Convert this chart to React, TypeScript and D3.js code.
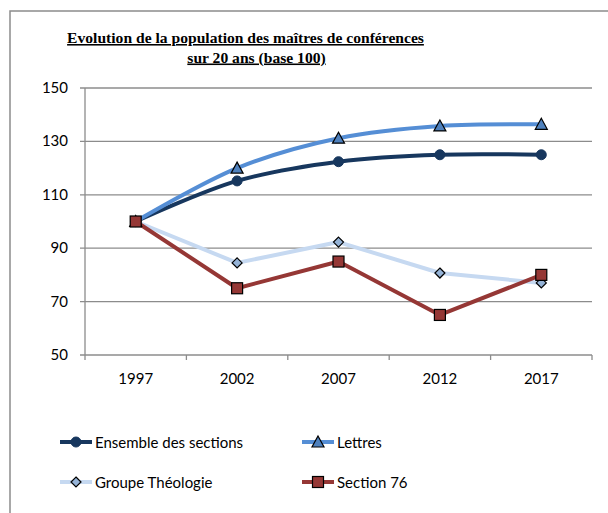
import React from "react";
import * as d3 from "d3";

const years = ["1997", "2002", "2007", "2012", "2017"];
const ensemble = [100, 115.2, 122.4, 125, 125];
const lettres = [100, 120, 131.2, 135.8, 136.4];
const theologie = [100, 84.5, 92.3, 80.7, 77];
const section76 = [100, 75, 85, 65, 80];
const yTicks = [50, 70, 90, 110, 130, 150];
const titleLines = ["Evolution de la population des maîtres de conférences", "sur 20 ans (base 100)"];

type S = { name: string; values: number[]; color: string; marker: string; mfill: string; smooth: boolean };
const series: S[] = [
  { name: "Ensemble des sections", values: ensemble, color: "#17375E", marker: "circle", mfill: "#17375E", smooth: true },
  { name: "Lettres", values: lettres, color: "#558ED5", marker: "triangle", mfill: "#4F81BD", smooth: true },
  { name: "Groupe Théologie", values: theologie, color: "#C6D9F1", marker: "diamond", mfill: "#95B3D7", smooth: false },
  { name: "Section 76", values: section76, color: "#953735", marker: "square", mfill: "#953735", smooth: false },
];

const W = 608, H = 513;
const L = 85, R = 592, T = 88, B = 355;

function Marker({ type, x, y, fill }: { type: string; x: number; y: number; fill: string }) {
  if (type === "circle") return <circle cx={x} cy={y} r={5} fill={fill} stroke={fill} />;
  if (type === "triangle")
    return <path d={`M${x},${y - 6}L${x + 6},${y + 5}L${x - 6},${y + 5}Z`} fill={fill} stroke="#000" strokeWidth={1.2} />;
  if (type === "diamond")
    return <path d={`M${x},${y - 5}L${x + 5},${y}L${x},${y + 5}L${x - 5},${y}Z`} fill={fill} stroke="#000" strokeWidth={1.2} />;
  return <rect x={x - 5.5} y={y - 5.5} width={11} height={11} fill={fill} stroke="#000" strokeWidth={1.2} />;
}

export default function App() {
  const x = d3.scaleBand<string>().domain(years).range([L, R]);
  const y = d3.scaleLinear().domain([50, 150]).range([B, T]);
  const cx = (d: string) => (x(d) as number) + x.bandwidth() / 2;
  const font = "Lato, 'Noto Sans', sans-serif";
  const titleX = [245.5, 256.5];
  return (
    <svg width={W} height={H} style={{ position: "absolute", left: 0, top: 0, background: "#fff" }}>
      <rect x={10} y={11} width={W + 10} height={H + 10} fill="#fff" stroke="#8c8c8c" strokeWidth={1.5} />
      {titleLines.map((t, i) => (
        <text key={i} x={titleX[i]} y={43 + i * 19.5} textAnchor="middle" fontFamily="'Liberation Serif', 'Times New Roman', serif"
          fontWeight="bold" fontSize={15.6} textDecoration="underline" fill="#000">{t}</text>
      ))}
      {yTicks.map((t) => (
        <g key={t}>
          <line x1={L - 5} x2={R} y1={y(t)} y2={y(t)} stroke="#8c8c8c" strokeWidth={1.3} />
          <text x={68} y={y(t) + 5} textAnchor="end" fontFamily={font} fontSize={15} fill="#000">{t}</text>
        </g>
      ))}
      <line x1={L} x2={L} y1={T} y2={B} stroke="#8c8c8c" strokeWidth={1.3} />
      {[...years.map((d) => x(d) as number), R].map((v, i) => (
        <line key={i} x1={v} x2={v} y1={B} y2={B + 5} stroke="#8c8c8c" strokeWidth={1.3} />
      ))}
      {years.map((d) => (
        <text key={d} x={cx(d)} y={B + 29} textAnchor="middle" fontFamily={font} fontSize={15} fill="#000">{d}</text>
      ))}
      {series.map((s) => {
        const line = d3.line<number>().x((_, i) => cx(years[i])).y((v) => y(v))
          .curve(s.smooth ? d3.curveCatmullRom.alpha(0.5) : d3.curveLinear);
        return <path key={s.name} d={line(s.values) || ""} fill="none" stroke={s.color} strokeWidth={4} strokeLinejoin="round" />;
      })}
      {series.map((s) => (
        <g key={s.name + "m"}>
          {s.values.map((v, i) => <Marker key={i} type={s.marker} x={cx(years[i])} y={y(v)} fill={s.mfill} />)}
        </g>
      ))}
      {series.map((s, i) => {
        const lx = i % 2 === 0 ? 60 : 302;
        const ly = i < 2 ? 442 : 482;
        return (
          <g key={s.name + "l"}>
            <line x1={lx} x2={lx + 32} y1={ly} y2={ly} stroke={s.color} strokeWidth={4} />
            <Marker type={s.marker} x={lx + 16} y={ly} fill={s.mfill} />
            <text x={lx + 35} y={ly + 5.5} fontFamily={font} fontSize={15} fill="#000">{s.name}</text>
          </g>
        );
      })}
    </svg>
  );
}
